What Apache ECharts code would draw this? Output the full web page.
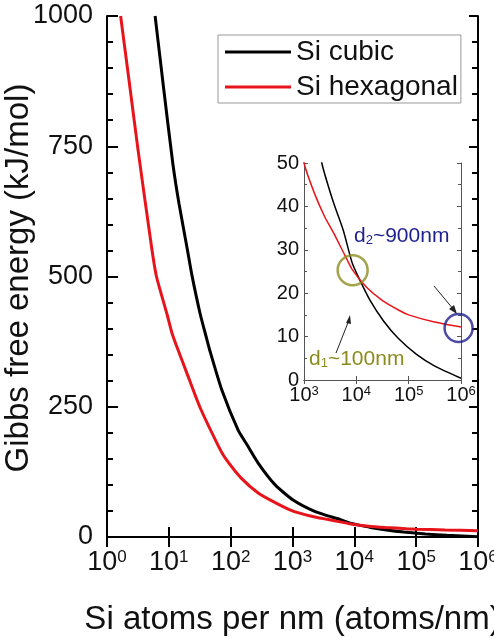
<!DOCTYPE html>
<html>
<head>
<meta charset="utf-8">
<script src="https://cdn.jsdelivr.net/npm/echarts@6/dist/echarts.min.js"></script>
<style>
  html, body { margin: 0; padding: 0; background: #fff; }
  #chart { width: 494px; height: 638px; }
</style>
</head>
<body>
<div id="chart"></div>
<script>
// Si atoms per nm (x) and Gibbs free energy in kJ/mol (y)
const cubicAtoms = [6.0, 8.3, 11.6, 14.6, 20, 23.4, 32, 40, 46, 72, 132, 182, 282, 525, 1023, 2188, 3631, 5623, 8318, 10965, 18197, 33113, 63096, 141254, 316228, 1000000]
const cubicEnergy = [1000, 858, 717, 640, 551, 505, 429, 385, 358, 282, 205, 178, 141, 100, 71, 50, 41, 34.5, 27, 23.7, 18.4, 13.6, 9.6, 5.9, 3.2, 0.4]

const hexAtoms = [1.66, 2.24, 3.16, 5.25, 6.31, 9.33, 11.2, 13.2, 19.5, 31.6, 63.1, 81.3, 151, 282, 525, 1000, 1585, 2512, 3631, 5623, 8318, 15849, 31623, 69183, 100000, 295121, 1000000]
const hexEnergy = [1000, 882, 745, 557, 500, 428, 392, 368, 315, 250, 175, 152, 112, 84, 66, 50, 43, 37.5, 34, 29.5, 25.5, 21.3, 18.3, 15.9, 15.0, 13.4, 12.2]

// circled points in the inset
const crossPoint = [8500, 25.3]
const endPoint = [900000, 12]

const mainYTicks = [0, 250, 500, 750, 1000]
const insetYTicks = [0, 10, 20, 30, 40, 50]

const font = 'Liberation Sans, Arial, sans-serif'
const red = '#e8141b'
const olive = '#8c8c1e'
const navy = '#1f1f8f'

function pairs(xs, ys) {
  return xs.map((x, i) => [x, ys[i]])
}

function powLabel(size, supSize) {
  return {
    formatter: v => '{b|10}{s|' + Math.round(Math.log10(v)) + '}',
    rich: {
      b: { fontSize: size, fontFamily: font, color: '#111' },
      s: { fontSize: supSize, fontFamily: font, color: '#111', verticalAlign: 'top' }
    }
  }
}

const chart = echarts.init(document.getElementById('chart'))

const mainLine = { show: true, lineStyle: { color: '#000', width: 2 } }
const insetLine = { show: true, lineStyle: { color: '#555', width: 1 } }

chart.setOption({
  animation: false,
  backgroundColor: '#fff',
  textStyle: { fontFamily: font },
  grid: [
    { left: 107, top: 16, right: 16, bottom: 101, outerBoundsMode: 'none', containLabel: false },
    { left: 304, top: 163, width: 157, height: 217, outerBoundsMode: 'none', containLabel: false }
  ],
  legend: {
    data: ['Si cubic', 'Si hexagonal'],
    orient: 'vertical',
    left: 218,
    top: 35,
    icon: 'rect',
    itemWidth: 66,
    itemHeight: 3,
    itemGap: 7,
    padding: [3, 3, 2, 7],
    borderColor: '#999',
    borderWidth: 1,
    textStyle: { fontSize: 28, color: '#111', fontFamily: font, lineHeight: 28 }
  },
  xAxis: [
    {
      gridIndex: 0, type: 'log', logBase: 10, min: 1, max: 1000000, splitNumber: 6,
      position: 'bottom',
      axisLine: mainLine,
      axisTick: { inside: true, length: 10, lineStyle: { width: 2, color: '#000' } },
      axisLabel: Object.assign({ margin: 12 }, powLabel(27, 17)),
      splitLine: { show: false },
      name: 'Si atoms per nm (atoms/nm)',
      nameLocation: 'middle',
      nameGap: 66,
      nameTextStyle: { fontSize: 33, color: '#111', fontFamily: font }
    },
    {
      gridIndex: 0, type: 'log', logBase: 10, min: 1, max: 1000000, splitNumber: 6,
      position: 'top',
      axisLine: mainLine,
      axisTick: { inside: true, length: 10, lineStyle: { width: 2, color: '#000' } },
      axisLabel: { show: false },
      splitLine: { show: false }
    },
    {
      gridIndex: 1, type: 'log', logBase: 10, min: 1000, max: 1000000, splitNumber: 3,
      position: 'bottom',
      axisLine: insetLine,
      axisTick: { inside: true, length: 4, lineStyle: { color: '#555' } },
      axisLabel: Object.assign({ margin: 5 }, powLabel(20, 13)),
      splitLine: { show: false }
    },
    {
      gridIndex: 1, type: 'log', logBase: 10, min: 1000, max: 1000000, splitNumber: 3,
      position: 'top',
      axisLine: insetLine,
      axisTick: { inside: true, length: 4, lineStyle: { color: '#555' } },
      axisLabel: { show: false },
      splitLine: { show: false }
    }
  ],
  yAxis: [
    {
      gridIndex: 0, type: 'value', min: mainYTicks[0], max: mainYTicks[mainYTicks.length - 1], interval: 250,
      position: 'left',
      axisLine: mainLine,
      axisTick: { inside: true, length: 11, lineStyle: { width: 2, color: '#000' } },
      minorTick: { show: true, splitNumber: 5, length: 6, lineStyle: { width: 2, color: '#000' } },
      axisLabel: { fontSize: 27, color: '#111', margin: 14, fontFamily: font, formatter: v => String(v) },
      splitLine: { show: false }
    },
    {
      gridIndex: 0, type: 'value', min: mainYTicks[0], max: mainYTicks[mainYTicks.length - 1], interval: 250,
      position: 'right',
      axisLine: mainLine,
      axisTick: { inside: true, length: 9, lineStyle: { width: 2, color: '#000' } },
      minorTick: { show: true, splitNumber: 5, length: 6, lineStyle: { width: 2, color: '#000' } },
      axisLabel: { show: false },
      splitLine: { show: false }
    },
    {
      gridIndex: 1, type: 'value', min: insetYTicks[0], max: insetYTicks[insetYTicks.length - 1], interval: 10,
      position: 'left',
      axisLine: insetLine,
      axisTick: { inside: true, length: 4, lineStyle: { color: '#555' } },
      minorTick: { show: true, splitNumber: 2, length: 3, lineStyle: { color: '#555' } },
      axisLabel: { fontSize: 20, color: '#111', margin: 5, fontFamily: font },
      splitLine: { show: false }
    },
    {
      gridIndex: 1, type: 'value', min: insetYTicks[0], max: insetYTicks[insetYTicks.length - 1], interval: 10,
      position: 'right',
      axisLine: insetLine,
      axisTick: { inside: true, length: 4, lineStyle: { color: '#555' } },
      minorTick: { show: true, splitNumber: 2, length: 3, lineStyle: { color: '#555' } },
      axisLabel: { show: false },
      splitLine: { show: false }
    }
  ],
  series: [
    {
      name: 'Si cubic', type: 'line', xAxisIndex: 0, yAxisIndex: 0,
      data: pairs(cubicAtoms, cubicEnergy),
      symbol: 'none', smooth: 0.2,
      itemStyle: { color: '#000' },
      lineStyle: { color: '#000', width: 3 }
    },
    {
      name: 'Si hexagonal', type: 'line', xAxisIndex: 0, yAxisIndex: 0,
      data: pairs(hexAtoms, hexEnergy),
      symbol: 'none', smooth: 0.2,
      itemStyle: { color: red },
      lineStyle: { color: red, width: 3 }
    },
    {
      name: 'Si cubic', type: 'line', xAxisIndex: 2, yAxisIndex: 2,
      data: pairs(cubicAtoms, cubicEnergy),
      symbol: 'none', smooth: 0.2,
      itemStyle: { color: '#000' },
      lineStyle: { color: '#000', width: 1.5 }
    },
    {
      name: 'Si hexagonal', type: 'line', xAxisIndex: 2, yAxisIndex: 2,
      data: pairs(hexAtoms, hexEnergy),
      symbol: 'none', smooth: 0.2,
      itemStyle: { color: red },
      lineStyle: { color: red, width: 1.5 }
    },
    {
      name: 'd1', type: 'scatter', xAxisIndex: 2, yAxisIndex: 2, clip: false,
      data: [crossPoint],
      symbol: 'circle', symbolSize: 30,
      itemStyle: { color: 'rgba(0,0,0,0)', borderColor: olive, borderWidth: 2.5 },
      z: 5
    },
    {
      name: 'd2', type: 'scatter', xAxisIndex: 2, yAxisIndex: 2, clip: false,
      data: [endPoint],
      symbol: 'circle', symbolSize: 28,
      itemStyle: { color: 'rgba(0,0,0,0)', borderColor: navy, borderWidth: 2.5 },
      z: 5
    }
  ],
  graphic: [
    // y axis title
    {
      type: 'text', x: 19, y: 278, rotation: Math.PI / 2, z: 10,
      style: {
        text: 'Gibbs free energy (kJ/mol)',
        font: '33px ' + font,
        fill: '#111',
        align: 'center',
        verticalAlign: 'middle'
      }
    },
    {
      type: 'text', left: 354, top: 226, z: 10,
      style: {
        text: '{a|d}{s|2}{a|~900nm}',
        rich: {
          a: { fontSize: 21, fill: navy, fontFamily: font },
          s: { fontSize: 13, fill: navy, fontFamily: font, verticalAlign: 'bottom' }
        }
      }
    },
    {
      type: 'text', left: 309, top: 349, z: 10,
      style: {
        text: '{a|d}{s|1}{a|~100nm}',
        rich: {
          a: { fontSize: 21, fill: olive, fontFamily: font },
          s: { fontSize: 13, fill: olive, fontFamily: font, verticalAlign: 'bottom' }
        }
      }
    },
    // arrow to d2 circle
    {
      type: 'line', z: 10,
      shape: { x1: 434, y1: 286, x2: 454, y2: 310 },
      style: { stroke: '#222', lineWidth: 1 }
    },
    {
      type: 'polygon', z: 10,
      shape: { points: [[457, 314], [449, 309], [454, 305]] },
      style: { fill: '#222' }
    },
    // arrow to d1 crossing
    {
      type: 'line', z: 10,
      shape: { x1: 336, y1: 353, x2: 349, y2: 320 },
      style: { stroke: '#222', lineWidth: 1 }
    },
    {
      type: 'polygon', z: 10,
      shape: { points: [[350, 315], [346, 323], [351, 324]] },
      style: { fill: '#222' }
    }
  ]
})
</script>
</body>
</html>
